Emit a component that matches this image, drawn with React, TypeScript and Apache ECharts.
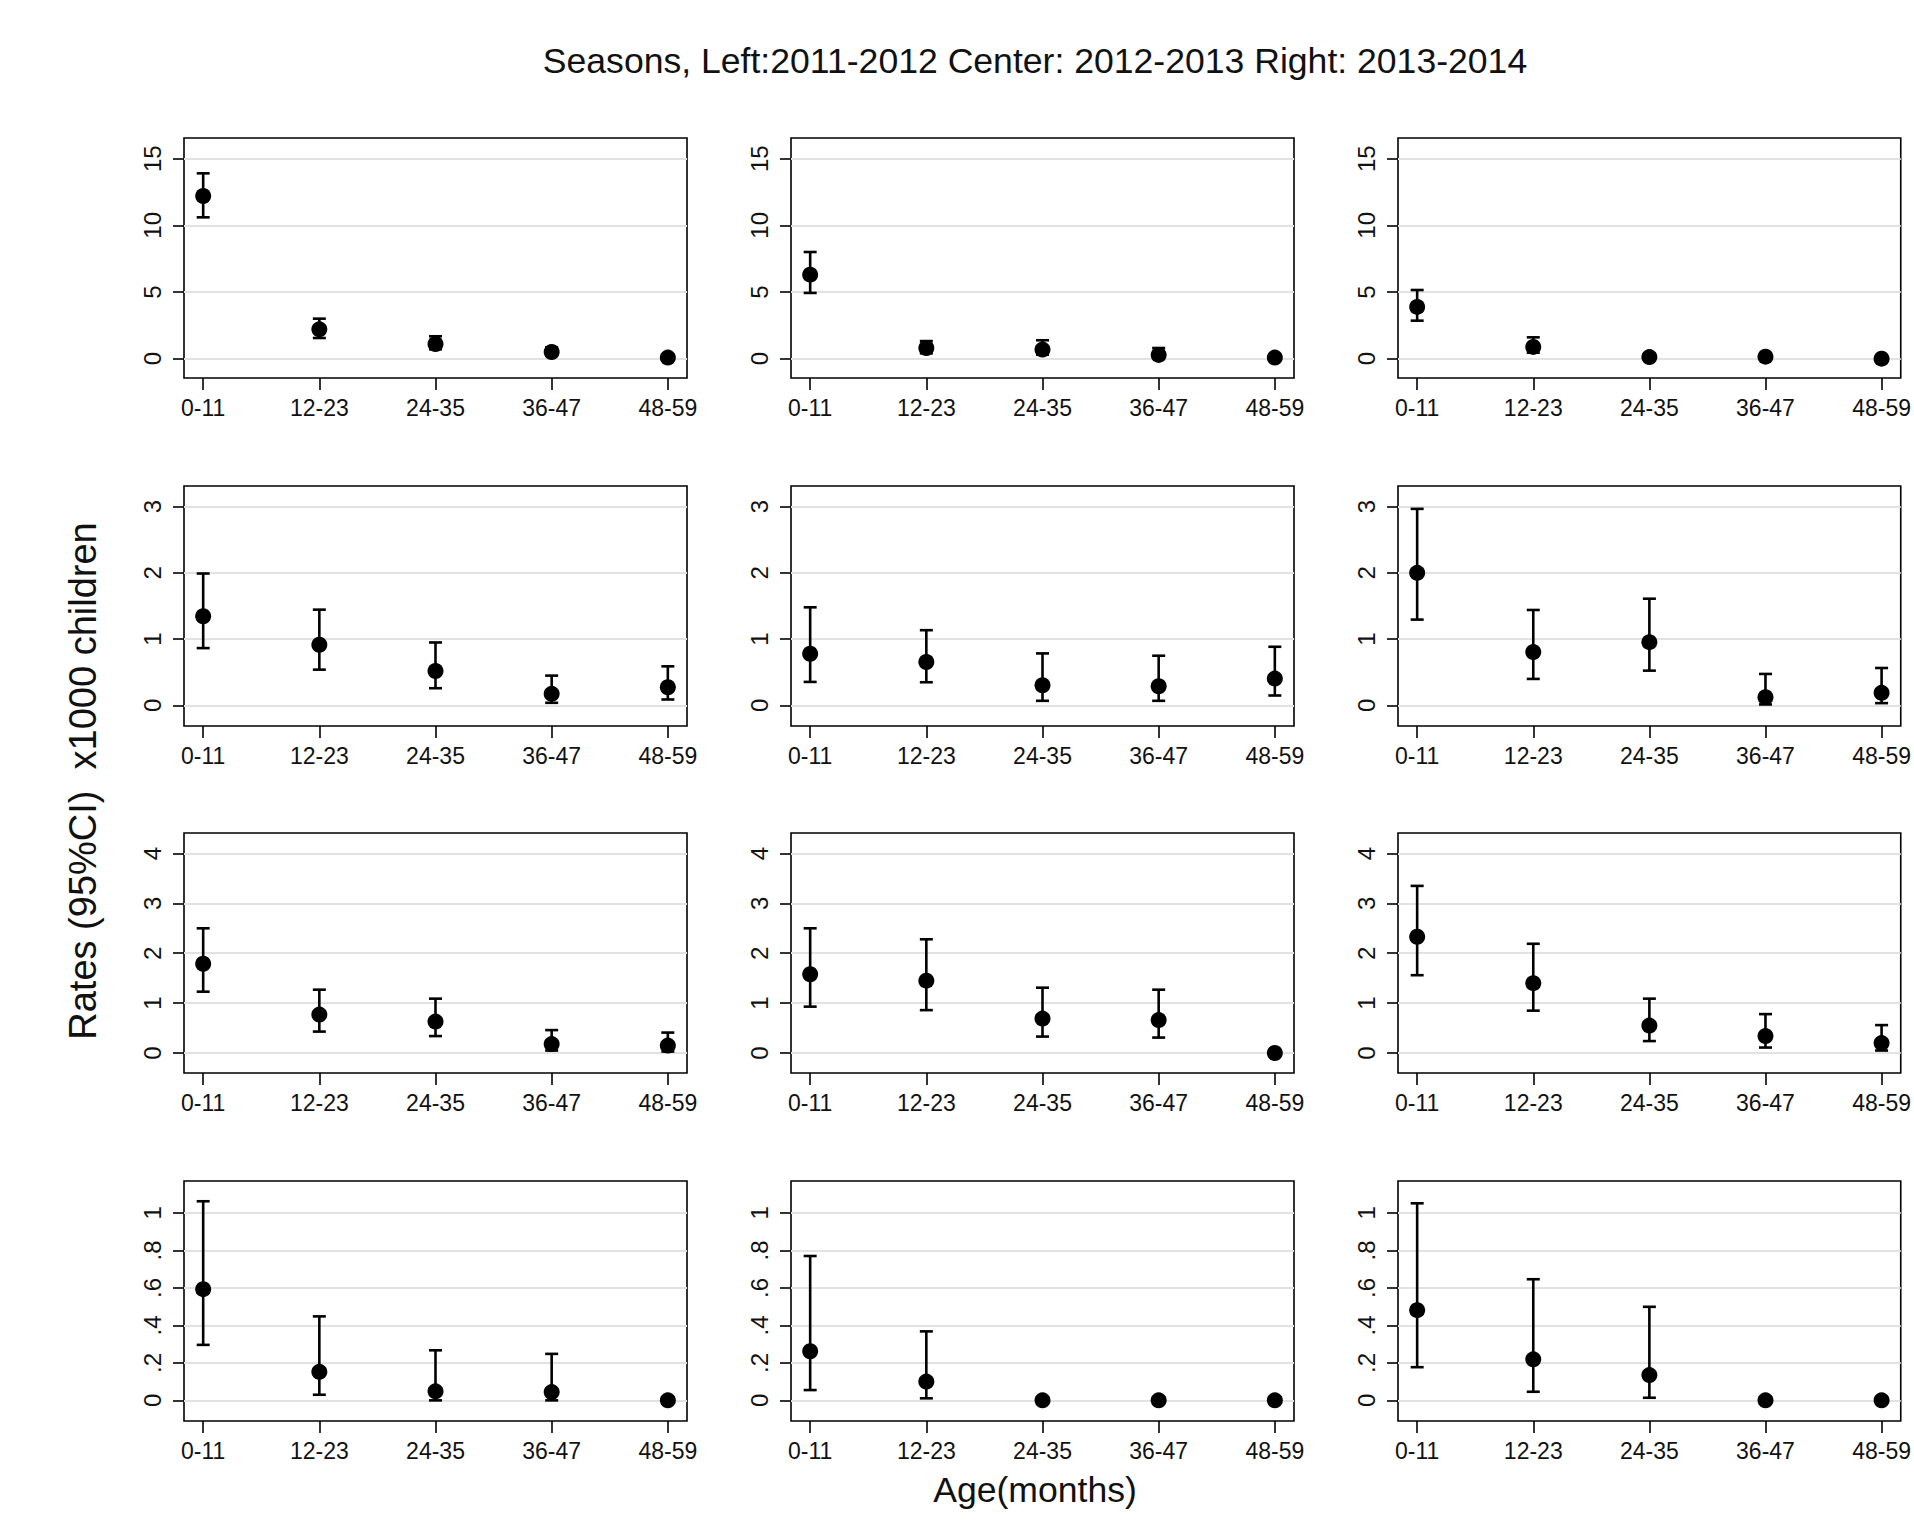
import React, { useEffect, useRef } from "react";
import * as echarts from "echarts";

// Categories
const ageGroups = ["0-11", "12-23", "24-35", "36-47", "48-59"];
const seasons = ["2011-2012", "2012-2013", "2013-2014"];

// Row A (top row)
const rowA_1112_rate = [12.2, 2.2, 1.1, 0.5, 0.08];
const rowA_1112_lo = [10.6, 1.55, 0.7, 0.25, 0.02];
const rowA_1112_hi = [13.9, 3.0, 1.68, 0.85, 0.2];
const rowA_1213_rate = [6.3, 0.8, 0.68, 0.28, 0.08];
const rowA_1213_lo = [4.93, 0.4, 0.3, 0.1, 0.01];
const rowA_1213_hi = [8.0, 1.32, 1.38, 0.8, 0.25];
const rowA_1314_rate = [3.88, 0.88, 0.12, 0.15, 0.0];
const rowA_1314_lo = [2.85, 0.45, 0.02, 0.03, 0.0];
const rowA_1314_hi = [5.15, 1.6, 0.35, 0.4, 0.0];

// Row B
const rowB_1112_rate = [1.345, 0.915, 0.52, 0.175, 0.275];
const rowB_1112_lo = [0.865, 0.54, 0.26, 0.04, 0.09];
const rowB_1112_hi = [1.99, 1.445, 0.95, 0.45, 0.59];
const rowB_1213_rate = [0.78, 0.655, 0.305, 0.29, 0.405];
const rowB_1213_lo = [0.355, 0.35, 0.07, 0.07, 0.15];
const rowB_1213_hi = [1.48, 1.135, 0.785, 0.75, 0.885];
const rowB_1314_rate = [2.0, 0.805, 0.955, 0.125, 0.19];
const rowB_1314_lo = [1.295, 0.4, 0.525, 0.015, 0.035];
const rowB_1314_hi = [2.965, 1.44, 1.61, 0.475, 0.565];

// Row C
const rowC_1112_rate = [1.79, 0.77, 0.63, 0.18, 0.15];
const rowC_1112_lo = [1.23, 0.43, 0.34, 0.05, 0.03];
const rowC_1112_hi = [2.5, 1.27, 1.09, 0.46, 0.41];
const rowC_1213_rate = [1.58, 1.45, 0.69, 0.66, 0.0];
const rowC_1213_lo = [0.93, 0.86, 0.33, 0.31, 0.0];
const rowC_1213_hi = [2.5, 2.28, 1.31, 1.27, 0.0];
const rowC_1314_rate = [2.33, 1.4, 0.55, 0.34, 0.2];
const rowC_1314_lo = [1.56, 0.85, 0.24, 0.11, 0.05];
const rowC_1314_hi = [3.35, 2.19, 1.09, 0.78, 0.56];

// Row D (bottom row)
const rowD_1112_rate = [0.593, 0.152, 0.048, 0.044, 0.0];
const rowD_1112_lo = [0.296, 0.03, 0.0, 0.0, 0.0];
const rowD_1112_hi = [1.062, 0.448, 0.267, 0.248, 0.0];
const rowD_1213_rate = [0.262, 0.1, 0.0, 0.0, 0.0];
const rowD_1213_lo = [0.055, 0.011, 0.0, 0.0, 0.0];
const rowD_1213_hi = [0.77, 0.368, 0.0, 0.0, 0.0];
const rowD_1314_rate = [0.481, 0.219, 0.135, 0.0, 0.0];
const rowD_1314_lo = [0.177, 0.046, 0.014, 0.0, 0.0];
const rowD_1314_hi = [1.051, 0.646, 0.499, 0.0, 0.0];

// Y axis tick values per row
const rowA_ticks = [0, 5, 10, 15];
const rowB_ticks = [0, 1, 2, 3];
const rowC_ticks = [0, 1, 2, 3, 4];
const rowD_ticks = [0, 0.2, 0.4, 0.6, 0.8, 1];

const titleText = "Seasons, Left:2011-2012 Center: 2012-2013 Right: 2013-2014";
const yTitle = "Rates (95%CI)  x1000 children";
const xTitle = "Age(months)";

const FONT = "'Liberation Sans', Arial, Helvetica, sans-serif";

const panels = [
  [
    [rowA_1112_rate, rowA_1112_lo, rowA_1112_hi],
    [rowA_1213_rate, rowA_1213_lo, rowA_1213_hi],
    [rowA_1314_rate, rowA_1314_lo, rowA_1314_hi],
  ],
  [
    [rowB_1112_rate, rowB_1112_lo, rowB_1112_hi],
    [rowB_1213_rate, rowB_1213_lo, rowB_1213_hi],
    [rowB_1314_rate, rowB_1314_lo, rowB_1314_hi],
  ],
  [
    [rowC_1112_rate, rowC_1112_lo, rowC_1112_hi],
    [rowC_1213_rate, rowC_1213_lo, rowC_1213_hi],
    [rowC_1314_rate, rowC_1314_lo, rowC_1314_hi],
  ],
  [
    [rowD_1112_rate, rowD_1112_lo, rowD_1112_hi],
    [rowD_1213_rate, rowD_1213_lo, rowD_1213_hi],
    [rowD_1314_rate, rowD_1314_lo, rowD_1314_hi],
  ],
];
const rowTicks = [rowA_ticks, rowB_ticks, rowC_ticks, rowD_ticks];
const rowMin = [-1.45, -0.31, -0.4, -0.11];
const rowMax = [16.55, 3.31, 4.41, 1.17];

const colLeft = [184, 791, 1398];
const rowTop = [138, 486, 833, 1181];
const gridW = 503;
const gridH = 240;

function fmtY(v: number): string {
  if (v === 0) return "0";
  if (Number.isInteger(v)) return String(v);
  return String(Math.round(v * 10) / 10).replace(/^0\./, ".");
}

export default function App() {
  const ref = useRef<HTMLDivElement>(null);
  useEffect(() => {
    if (!ref.current) return;
    const chart = echarts.init(ref.current, undefined, { renderer: "svg" });
    const grids: any[] = [];
    const xAxes: any[] = [];
    const yAxes: any[] = [];
    const series: any[] = [];
    let idx = 0;
    for (let r = 0; r < 4; r++) {
      for (let c = 0; c < 3; c++) {
        const [rate, lo, hi] = panels[r][c];
        grids.push({
          left: colLeft[c],
          top: rowTop[r],
          width: gridW,
          height: gridH,
          show: true,
          borderColor: "#000",
          borderWidth: 1.6,
          backgroundColor: "#fff",
          containLabel: false,
        });
        xAxes.push({
          type: "value",
          gridIndex: idx,
          position: "bottom",
          min: 0.835,
          max: 5.165,
          axisLine: { show: false, onZero: false },
          axisTick: {
            show: true,
            inside: false,
            customValues: [1, 2, 3, 4, 5],
            length: 12,
            lineStyle: { color: "#000", width: 1.6 },
          },
          axisLabel: {
            show: true,
            customValues: [1, 2, 3, 4, 5],
            formatter: (v: number) => ageGroups[Math.round(v) - 1],
            fontFamily: FONT,
            fontSize: 23,
            color: "#111",
            margin: 18,
          },
          splitLine: { show: false },
        });
        yAxes.push({
          type: "value",
          gridIndex: idx,
          position: "left",
          min: rowMin[r],
          max: rowMax[r],
          axisLine: { show: false, onZero: false },
          axisTick: {
            show: true,
            inside: false,
            customValues: rowTicks[r],
            length: 11,
            lineStyle: { color: "#000", width: 1.6 },
          },
          axisLabel: {
            show: true,
            customValues: rowTicks[r],
            formatter: (v: number) => fmtY(v),
            rotate: 90,
            fontFamily: FONT,
            fontSize: 24,
            color: "#111",
            margin: 20,
          },
          splitLine: {
            show: true,
            lineStyle: { color: "#e2e2e2", width: 2 },
          },
        });
        const barData = rate
          .map((_, i) => [i + 1, lo[i], hi[i]])
          .filter((d) => d[2] > d[1]);
        series.push({
          type: "custom",
          xAxisIndex: idx,
          yAxisIndex: idx,
          coordinateSystem: "cartesian2d",
          encode: { x: 0, y: [1, 2] },
          data: barData,
          z: 2,
          renderItem: (params: any, api: any) => {
            const x = api.value(0);
            const pLo = api.coord([x, api.value(1)]);
            const pHi = api.coord([x, api.value(2)]);
            const st = { stroke: "#000", lineWidth: 2.6 };
            const cap = 6.5;
            return {
              type: "group",
              children: [
                { type: "line", shape: { x1: pLo[0], y1: pLo[1], x2: pHi[0], y2: pHi[1] }, style: st },
                { type: "line", shape: { x1: pLo[0] - cap, y1: pLo[1], x2: pLo[0] + cap, y2: pLo[1] }, style: st },
                { type: "line", shape: { x1: pHi[0] - cap, y1: pHi[1], x2: pHi[0] + cap, y2: pHi[1] }, style: st },
              ],
            };
          },
        });
        series.push({
          type: "scatter",
          xAxisIndex: idx,
          yAxisIndex: idx,
          symbol: "circle",
          symbolSize: 16,
          itemStyle: { color: "#000", opacity: 1 },
          z: 3,
          data: rate.map((v, i) => [i + 1, v]),
        });
        idx++;
      }
    }
    chart.setOption({
      animation: false,
      backgroundColor: "#fff",
      grid: grids,
      xAxis: xAxes,
      yAxis: yAxes,
      series,
      graphic: [
        {
          type: "text",
          x: 1035,
          y: 61,
          style: {
            text: titleText,
            fontFamily: FONT,
            fontSize: 35.6,
            fill: "#111",
            textAlign: "center",
            textVerticalAlign: "middle",
          },
        },
        {
          type: "text",
          x: 83,
          y: 781,
          rotation: Math.PI / 2,
          style: {
            text: yTitle,
            fontFamily: FONT,
            fontSize: 38,
            fill: "#111",
            textAlign: "center",
            textVerticalAlign: "middle",
          },
        },
        {
          type: "text",
          x: 1035,
          y: 1490,
          style: {
            text: xTitle,
            fontFamily: FONT,
            fontSize: 35.6,
            fill: "#111",
            textAlign: "center",
            textVerticalAlign: "middle",
          },
        },
      ],
    });
    return () => chart.dispose();
  }, []);
  return (
    <div
      ref={ref}
      style={{ position: "absolute", left: 0, top: 0, width: 1914, height: 1522, background: "#fff" }}
    />
  );
}
